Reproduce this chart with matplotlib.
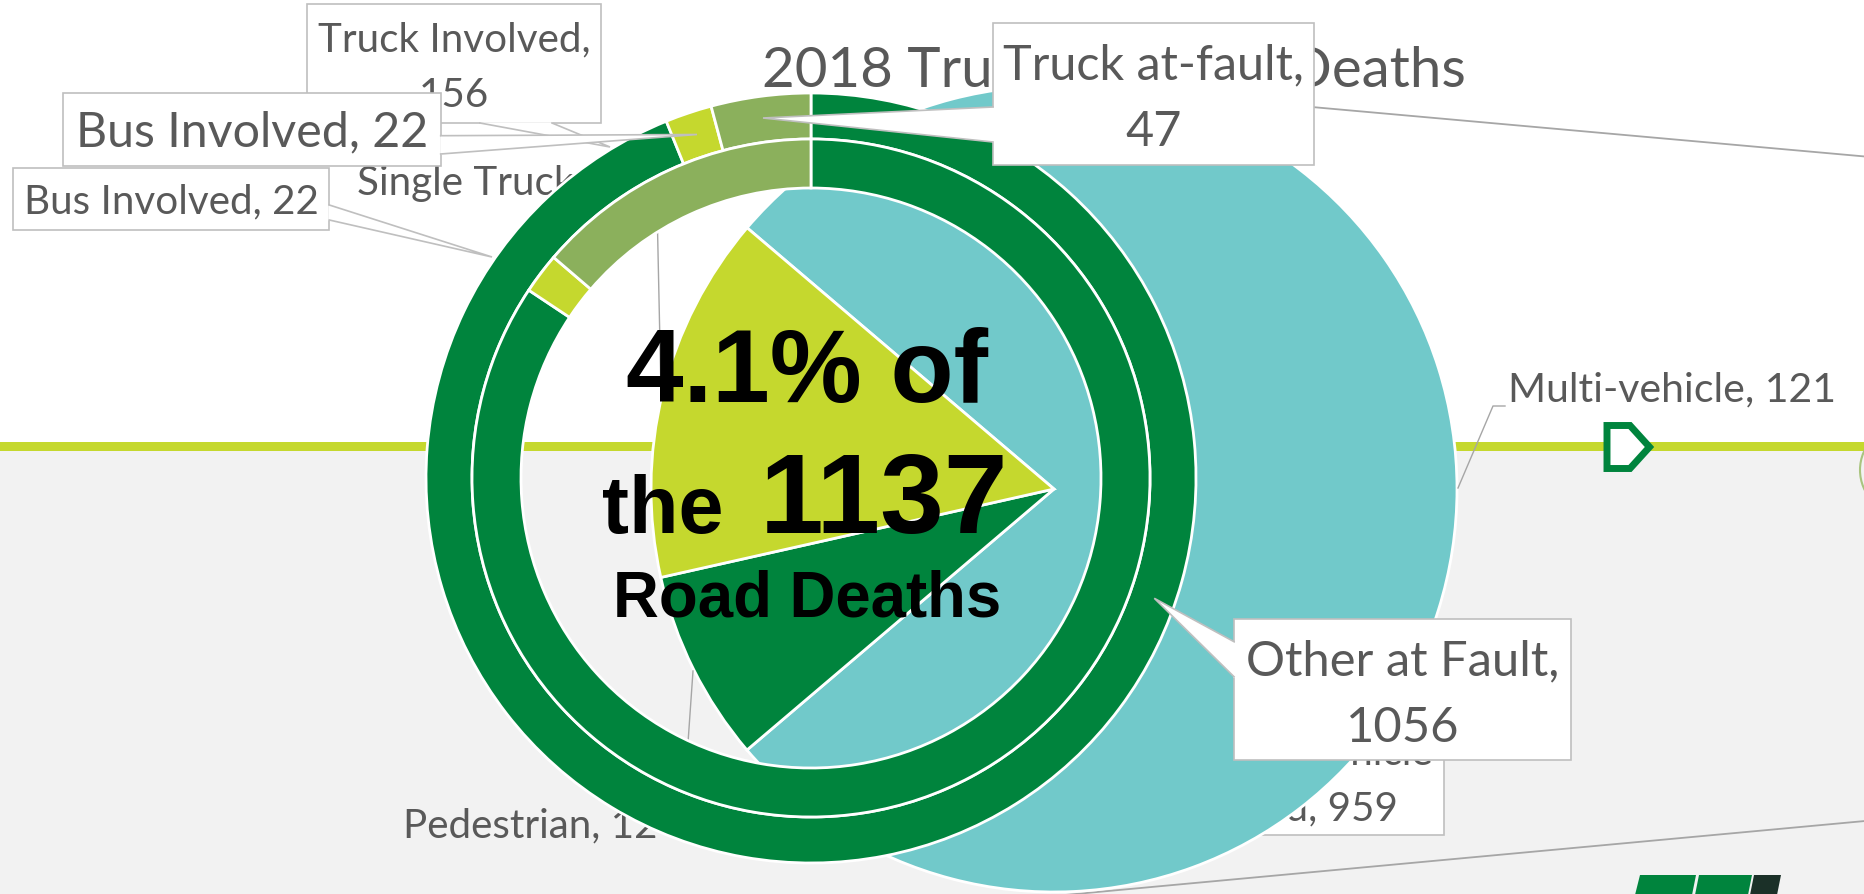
import matplotlib
matplotlib.use('Agg')
import matplotlib.pyplot as plt
from matplotlib.patches import Rectangle, Polygon, Circle

# 2018 road deaths - truck / bus involvement
title = '2018 Truck Involved Deaths'
truck_labels = ['Multi-vehicle', 'Pedestrian', 'Single Truck']
truck_values = [121, 12, 23]
inner_labels = ['Other Vehicle Involved', 'Bus Involved', 'Truck Involved']
inner_values = [959, 22, 156]
outer_labels = ['Other at Fault', 'Bus Involved', 'Truck at-fault']
outer_values = [1056, 22, 47]
road_deaths = 1137
share = '%.1f%%' % (100.0 * outer_values[2] / road_deaths)

DARK = '#00843D'
OLIVE = '#8BB05C'
LIME = '#C5D82E'
TEAL = '#71C9CA'
GREY = '#595959'
BOX_EDGE = '#BFBFBF'
LEAD = '#A6A6A6'
BG = '#F2F2F2'
FONT = 'Lato'
BIG_FONT = 'Liberation Sans'

W, H = 1865, 894
fig = plt.figure(figsize=(W / 100, H / 100), dpi=100)
ax = fig.add_axes([0, 0, 1, 1])
r = fig.canvas.get_renderer()


def Y(y):
    # picture rows -> data y (y up)
    return H - y


def fit(s, width, family=FONT, weight='normal'):
    t = fig.text(0, 0, s, fontsize=100, family=family, weight=weight)
    w = t.get_window_extent(renderer=r).width
    t.remove()
    return 100.0 * width / w


def txt(x, y, s, size, ha='left', z=6, color=GREY, family=FONT, weight='normal'):
    ax.text(x, Y(y), s, fontsize=size, ha=ha, va='baseline', color=color,
            family=family, weight=weight, zorder=z)


def callout(x0, y0, x1, y1, b1, b2, tip, z):
    ax.add_patch(Rectangle((x0, Y(y1)), x1 - x0, y1 - y0, facecolor='white',
                           edgecolor=BOX_EDGE, lw=1.2, zorder=z))
    if tip is None:
        return
    ax.add_patch(Polygon([(b1[0], Y(b1[1])), (tip[0], Y(tip[1])), (b2[0], Y(b2[1]))],
                         facecolor='white', edgecolor='none', zorder=z))
    ax.plot([b1[0], b2[0]], [Y(b1[1]), Y(b2[1])], color='white', lw=1.8,
            zorder=z, solid_capstyle='butt')
    ax.plot([b1[0], tip[0], b2[0]], [Y(b1[1]), Y(tip[1]), Y(b2[1])],
            color=BOX_EDGE, lw=1.2, zorder=z, solid_joinstyle='miter')


small = fit('Bus Involved, 22', 295)

# slide background
ax.add_patch(Rectangle((0, 0), W, Y(451), facecolor=BG, edgecolor='none', zorder=0))
ax.add_patch(Rectangle((0, Y(451)), W, 9, facecolor=LIME, edgecolor='none', zorder=0.5))
ax.add_patch(Circle((1905, Y(470)), 45, fill=False, edgecolor='#A9C47F', lw=1.5, zorder=1))

# connector lines of the chart on the right
ax.plot([1200, 1865], [Y(97), Y(156.5)], color=LEAD, lw=1.3, zorder=2)
ax.plot([1000, 1865], [Y(901), Y(821)], color=LEAD, lw=1.3, zorder=2)

# hidden label of the inner ring
callout(1100, 700, 1444, 835, None, None, None, 3)
txt(1433, 765, 'Other Vehicle', small, ha='right', z=3.1)
txt(1398, 820, 'Involved, %d' % inner_values[0], small, ha='right', z=3.1)

# truck pie
txt(761.7, 87.3, title, fit(title, 703), z=4)
ax.pie(truck_values, colors=[TEAL, DARK, LIME], startangle=139.6, counterclock=False,
       radius=403, center=(1054, Y(489)),
       wedgeprops=dict(edgecolor='white', linewidth=2, zorder=5))

s = '%s, %d' % (truck_labels[0], truck_values[0])
txt(1508, 401.7, s, fit(s, 328))
ax.plot([1458, 1493, 1505], [Y(488), Y(406), Y(406)], color=LEAD, lw=1, zorder=6)
txt(356.7, 195, '%s, %d' % (truck_labels[2], truck_values[2]), small)
ax.plot([661, 657], [Y(392), Y(205)], color=LEAD, lw=1, zorder=6)
txt(403.3, 837.3, '%s, %d' % (truck_labels[1], truck_values[1]), small)
ax.plot([693, 684], [Y(671), Y(800)], color=LEAD, lw=1, zorder=6)

# donut: outer ring = at fault, inner ring = involved
ring_colors = [DARK, LIME, OLIVE]
ax.pie(outer_values, colors=ring_colors, startangle=90, counterclock=False,
       radius=385, center=(811, Y(478)),
       wedgeprops=dict(width=46, edgecolor='white', linewidth=2, zorder=7))
ax.pie(inner_values, colors=ring_colors, startangle=90, counterclock=False,
       radius=339, center=(811, Y(478)),
       wedgeprops=dict(width=49, edgecolor='white', linewidth=2, zorder=7))

# inner ring labels
callout(307, 4, 601, 123, (480, 123), (552, 123), (610, 147), 8)
sz = fit(inner_labels[2] + ',', 272)
txt(454, 51.7, inner_labels[2] + ',', sz, ha='center', z=8.1)
txt(454, 106.7, str(inner_values[2]), sz, ha='center', z=8.1)
callout(12.7, 168.3, 329.3, 230, (329.3, 205), (329.3, 220), (492, 257), 8)
txt(171, 213.3, '%s, %d' % (inner_labels[1], inner_values[1]), small, ha='center', z=8.1)

# outer ring labels
s = '%s, %d' % (outer_labels[1], outer_values[1])
callout(63.3, 92.7, 440.7, 165.7, (440.7, 135.7), (440.7, 154), (697, 134.5), 9)
txt(252, 146.7, s, fit(s, 353), ha='center', z=9.1)

callout(993, 23, 1314, 165, (993, 107), (993, 142), (763, 118), 9)
sz = fit(outer_labels[2] + ',', 301)
txt(1153.5, 79, outer_labels[2] + ',', sz, ha='center', z=9.1)
txt(1153.5, 145.7, str(outer_values[2]), sz, ha='center', z=9.1)

callout(1234, 619, 1571, 760, (1234, 641.7), (1234, 676.7), (1154.3, 598.3), 9)
sz = fit(outer_labels[0] + ',', 314)
txt(1402.5, 675, outer_labels[0] + ',', sz, ha='center', z=9.1)
txt(1402.5, 741.7, str(outer_values[0]), sz, ha='center', z=9.1)

# headline in the middle
s = share + ' of'
txt(807.5, 401.7, s, fit(s, 361.7, BIG_FONT, 'bold'), ha='center', z=10,
    color='black', family=BIG_FONT, weight='bold')
txt(601.7, 533.3, 'the', fit('the', 121.6, BIG_FONT, 'bold'), z=10,
    color='black', family=BIG_FONT, weight='bold')
s = str(road_deaths)
txt(1008.3, 533.3, s, fit(s, 248.3, BIG_FONT, 'bold'), ha='right', z=10,
    color='black', family=BIG_FONT, weight='bold')
s = 'Road Deaths'
txt(807.5, 616.7, s, fit(s, 388.4, BIG_FONT, 'bold'), ha='center', z=10,
    color='black', family=BIG_FONT, weight='bold')

# slide decorations
ax.add_patch(Polygon([(1607, Y(425.5)), (1630, Y(425.5)), (1649.5, Y(447)),
                      (1630, Y(468.5)), (1607, Y(468.5))], closed=True,
                     facecolor='white', edgecolor=DARK, lw=5, joinstyle='miter', zorder=11))
ax.add_patch(Polygon([(1640, Y(875)), (1696, Y(875)), (1692, Y(895)), (1635, Y(895))],
                     facecolor=DARK, edgecolor='none', zorder=11))
ax.add_patch(Polygon([(1699, Y(875)), (1752, Y(875)), (1748, Y(895)), (1695, Y(895))],
                     facecolor=DARK, edgecolor='none', zorder=11))
ax.add_patch(Polygon([(1754, Y(875)), (1781, Y(875)), (1777, Y(895)), (1750, Y(895))],
                     facecolor='#1B3028', edgecolor='none', zorder=11))

ax.set_xlim(0, W)
ax.set_ylim(0, H)
ax.set_aspect('equal')
ax.axis('off')
fig.savefig('out.png', dpi=100, facecolor='white')
